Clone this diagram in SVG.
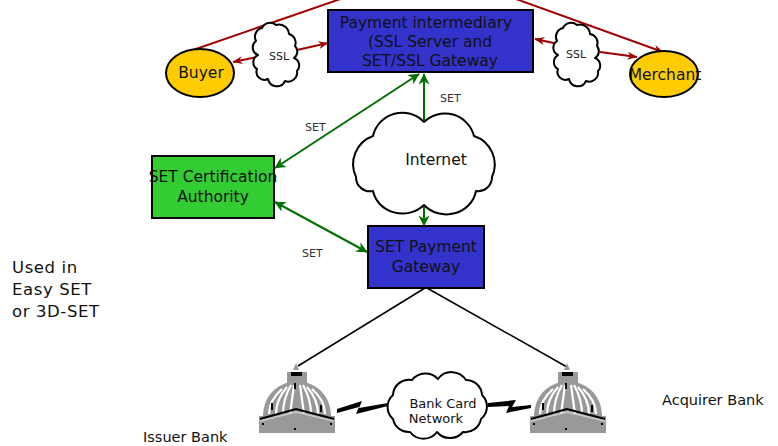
<svg xmlns="http://www.w3.org/2000/svg" xmlns:xlink="http://www.w3.org/1999/xlink" width="778" height="446" viewBox="0 0 778 446">
  <style>
    .txt { font-family: "DejaVu Sans", "Liberation Sans", sans-serif; fill: #111; }
    .big { font-size: 15.5px; }
    .mid { font-size: 13px; }
    .lbl { font-size: 14.5px; }
    .small { font-size: 11px; fill: #333; }
    .box { stroke: #000; stroke-width: 2; }
    .blue { fill: #3333CC; }
    .green { fill: #33CC33; }
    .oval { fill: #FFCC00; stroke: #000; stroke-width: 2; }
    .cloud { fill: #fff; stroke: #000; stroke-width: 2; stroke-linejoin: round; }
    .red { stroke: #A00000; stroke-width: 2; fill: none; }
    .grn { stroke: #007000; stroke-width: 2; fill: none; }
    .blk { stroke: #000; stroke-width: 1.5; fill: none; }
    .bolt { fill: #000; }
  </style>
  <defs>
    <marker id="ah-red" viewBox="0 0 10 8" refX="9.5" refY="4" markerWidth="11" markerHeight="8" markerUnits="userSpaceOnUse" orient="auto-start-reverse">
      <path d="M0,0 L10,4 L0,8 L3,4 Z" fill="#A00000"/>
    </marker>
    <marker id="ah-grn" viewBox="0 0 10 10" refX="9.5" refY="5" markerWidth="12" markerHeight="11" markerUnits="userSpaceOnUse" orient="auto-start-reverse">
      <path d="M0,0 L10,5 L0,10 L3,5 Z" fill="#007000"/>
    </marker>
    <!-- domed bank building, origin at its top-left corner -->
    <g id="bank">
      <path d="M34,7 L37,0 L40,7 Z" fill="#999"/>
      <rect x="28" y="9" width="20" height="12" fill="#999"/>
      <rect x="32" y="9" width="11" height="4" fill="#000"/>
      <path d="M4,54 C4,31 20,19 38,18 C56,19 72,31 72,54 Z" fill="#999"/>
      <g stroke="#fff" stroke-width="2.2" fill="none">
        <path d="M10,51 C10,42 15,33 23,26"/>
        <path d="M17,51 C17,41 21,32 28,24"/>
        <path d="M24,51 C24,40 27,31 32,22"/>
        <path d="M31,51 L35,22"/>
        <path d="M45,51 L41,22"/>
        <path d="M52,51 C52,40 49,31 44,22"/>
        <path d="M59,51 C59,41 55,32 48,24"/>
        <path d="M66,51 C66,42 61,33 53,26"/>
      </g>
      <rect x="35" y="20" width="2" height="6" fill="#000"/>
      <rect x="12" y="40" width="2" height="7" fill="#000"/>
      <rect x="61" y="42" width="2" height="7" fill="#000"/>
      <rect x="0" y="53" width="76" height="17" fill="#999"/>
      <path d="M1,56 L37,46 L75,56" stroke="#000" stroke-width="2" fill="none"/>
      <path d="M1,58 L37,49 L75,58" stroke="#ccc" stroke-width="1.5" fill="none"/>
      <rect x="3" y="60" width="2" height="2" fill="#000"/>
      <rect x="35" y="65" width="2" height="2" fill="#000"/>
      <rect x="71" y="60" width="2" height="2" fill="#000"/>
    </g>
  </defs>

  <rect width="778" height="446" fill="#fff"/>

  <!-- connectors -->
  <g id="connectors">
    <polyline class="red" points="193,50 430,-32 663,52" marker-end="url(#ah-red)"/>
    <line class="red" x1="257" y1="57" x2="233" y2="62" marker-end="url(#ah-red)"/>
    <line class="red" x1="297" y1="50" x2="328" y2="43" marker-end="url(#ah-red)"/>
    <line class="red" x1="563" y1="45" x2="535" y2="39" marker-end="url(#ah-red)"/>
    <line class="red" x1="600" y1="52" x2="637" y2="57" marker-end="url(#ah-red)"/>

    <line class="grn" x1="424" y1="122" x2="424" y2="74" marker-end="url(#ah-grn)"/>
    <line class="grn" x1="275" y1="168" x2="419" y2="74" marker-start="url(#ah-grn)" marker-end="url(#ah-grn)"/>
    <line class="grn" x1="424" y1="205" x2="424" y2="226" marker-end="url(#ah-grn)"/>
    <line class="grn" x1="275" y1="202" x2="367" y2="252" marker-start="url(#ah-grn)" marker-end="url(#ah-grn)"/>

    <line class="blk" x1="425" y1="288" x2="298" y2="366"/>
    <line class="blk" x1="427" y1="288" x2="567" y2="367"/>

    <path class="bolt" d="M337,409 L362,401 L359,408 L388,403 L388,406 L356,414 L359,407 L337,413 Z"/>
    <path class="bolt" d="M488,403 L516,400 L512,407 L531,405 L531,408 L506,413 L509,406 L488,407 Z"/>

    <text class="txt small" x="305" y="131">SET</text>
    <text class="txt small" x="440" y="102">SET</text>
    <text class="txt small" x="302" y="257">SET</text>
  </g>

  <!-- nodes -->
  <g id="payment-intermediary">
    <rect class="box blue" x="328" y="10" width="205" height="62"/>
    <text class="txt big" text-anchor="middle" x="426" y="28">Payment intermediary</text>
    <text class="txt big" text-anchor="middle" x="430" y="47">(SSL Server and</text>
    <text class="txt big" text-anchor="middle" x="430" y="66">SET/SSL Gateway</text>
  </g>

  <g id="buyer">
    <ellipse class="oval" cx="200" cy="73" rx="34" ry="24"/>
    <text class="txt big" text-anchor="middle" x="201" y="78">Buyer</text>
  </g>

  <g id="merchant">
    <ellipse class="oval" cx="664" cy="74" rx="34" ry="23"/>
    <text class="txt big" text-anchor="middle" x="665" y="80">Merchant</text>
  </g>

  <g id="ssl-left">
    <path class="cloud" d="M262,28 A9,9 0 0 1 276,25 A10,10 0 0 1 289,34 A9,9 0 0 1 295,46 A8,8 0 0 1 294,58 A8,8 0 0 1 297,71 A9,9 0 0 1 285,81 A9,9 0 0 1 268,79 A8,8 0 0 1 257,69 A8,8 0 0 1 258,55 A8,8 0 0 1 256,41 A9,9 0 0 1 262,28 Z"/>
    <text class="txt small" style="fill:#222" text-anchor="middle" x="279" y="60">SSL</text>
  </g>

  <g id="ssl-right">
    <path class="cloud" d="M563,28 A9,9 0 0 1 577,25 A10,10 0 0 1 590,34 A9,9 0 0 1 597,46 A8,8 0 0 1 595,58 A8,8 0 0 1 598,71 A9,9 0 0 1 586,81 A9,9 0 0 1 569,79 A8,8 0 0 1 558,69 A8,8 0 0 1 558,55 A8,8 0 0 1 557,41 A9,9 0 0 1 563,28 Z"/>
    <text class="txt small" style="fill:#222" text-anchor="middle" x="576" y="58">SSL</text>
  </g>

  <g id="internet">
    <path class="cloud" d="M424,122 A30,30 0 0 1 474,136 A30,30 0 0 1 492,177 A14,14 0 0 1 476,191 A30,28 0 0 1 424,205 A30,28 0 0 1 373,191 A14,14 0 0 1 356,177 A30,30 0 0 1 373,136 A30,30 0 0 1 424,122 Z"/>
    <text class="txt big" text-anchor="middle" x="436" y="165">Internet</text>
  </g>

  <g id="ca">
    <rect class="box green" x="152" y="156" width="122" height="62"/>
    <text class="txt big" text-anchor="middle" x="213" y="182">SET Certification</text>
    <text class="txt big" text-anchor="middle" x="213" y="202">Authority</text>
  </g>

  <g id="payment-gateway">
    <rect class="box blue" x="368" y="226" width="116" height="62"/>
    <text class="txt big" text-anchor="middle" x="426" y="252">SET Payment</text>
    <text class="txt big" text-anchor="middle" x="426" y="272">Gateway</text>
  </g>

  <g id="bank-card-network">
    <path class="cloud" d="M412,380 A17,17 0 0 1 438,379 A17,17 0 0 1 466,380 A16,16 0 0 1 482,395 A16,16 0 0 1 481,419 A16,16 0 0 1 463,432 A17,17 0 0 1 437,432 A17,17 0 0 1 410,432 A16,16 0 0 1 393,419 A16,16 0 0 1 393,395 A16,16 0 0 1 412,380 Z"/>
    <text class="txt mid" text-anchor="middle" x="443" y="408">Bank Card</text>
    <text class="txt mid" text-anchor="middle" x="436" y="423">Network</text>
  </g>

  <g id="issuer-bank">
    <use xlink:href="#bank" x="259" y="363"/>
    <text class="txt lbl" x="143" y="442">Issuer Bank</text>
  </g>

  <g id="acquirer-bank">
    <use xlink:href="#bank" x="530" y="363"/>
    <text class="txt lbl" x="662" y="405">Acquirer Bank</text>
  </g>

  <g id="note">
    <text class="txt" style="font-size:16.5px;letter-spacing:0.6px" x="12" y="273">Used in</text>
    <text class="txt" style="font-size:16.5px;letter-spacing:0.6px" x="12" y="295">Easy SET</text>
    <text class="txt" style="font-size:16.5px;letter-spacing:0.6px" x="12" y="317">or 3D-SET</text>
  </g>
</svg>
